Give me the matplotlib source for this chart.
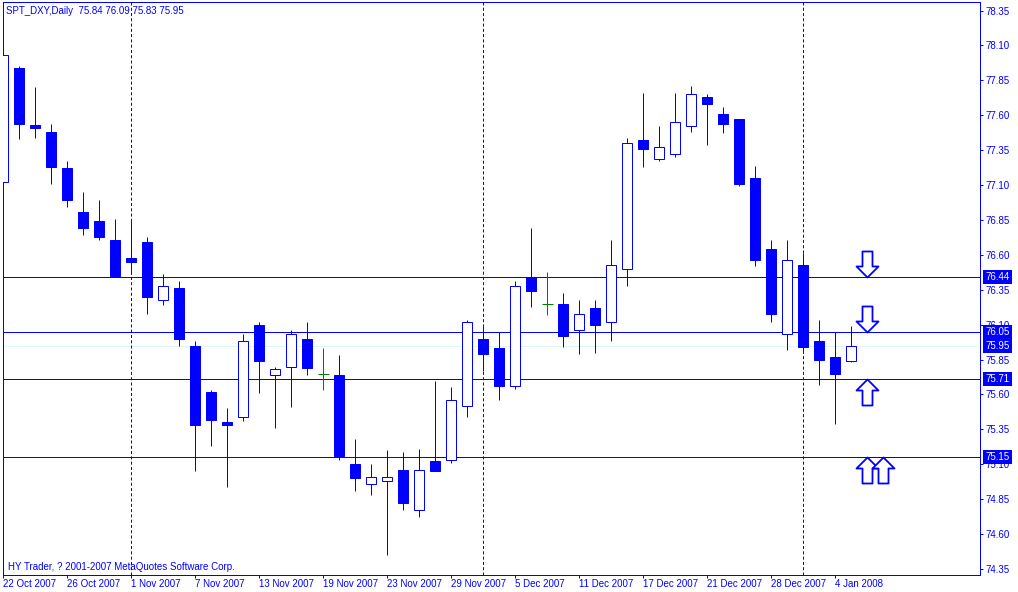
import matplotlib
matplotlib.use('Agg')
import matplotlib.pyplot as plt
from matplotlib.path import Path
from matplotlib.transforms import blended_transform_factory
import datetime as dt

# ---------------- data ----------------
dates = ["2007-10-22", "2007-10-23", "2007-10-24", "2007-10-25", "2007-10-26",
         "2007-10-29", "2007-10-30", "2007-10-31", "2007-11-01", "2007-11-02",
         "2007-11-05", "2007-11-06", "2007-11-07", "2007-11-08", "2007-11-09",
         "2007-11-12", "2007-11-13", "2007-11-14", "2007-11-15", "2007-11-16",
         "2007-11-19", "2007-11-20", "2007-11-21", "2007-11-22", "2007-11-23",
         "2007-11-26", "2007-11-27", "2007-11-28", "2007-11-29", "2007-11-30",
         "2007-12-03", "2007-12-04", "2007-12-05", "2007-12-06", "2007-12-07",
         "2007-12-10", "2007-12-11", "2007-12-12", "2007-12-13", "2007-12-14",
         "2007-12-17", "2007-12-18", "2007-12-19", "2007-12-20", "2007-12-21",
         "2007-12-24", "2007-12-26", "2007-12-27", "2007-12-28", "2007-12-31",
         "2008-01-02", "2008-01-03", "2008-01-04", "2008-01-07"]

opens = [77.12, 77.94, 77.53, 77.48, 77.22, 76.91, 76.84, 76.71, 76.58, 76.69,
         76.28, 76.36, 75.95, 75.62, 75.40, 75.44, 76.10, 75.74, 75.80, 76.00,
         75.75, 75.74, 75.10, 74.96, 74.98, 75.06, 74.77, 75.12, 75.13, 75.52,
         76.00, 75.93, 75.66, 76.44, 76.25, 76.25, 76.06, 76.22, 76.12, 76.50,
         77.42, 77.29, 77.32, 77.52, 77.73, 77.61, 77.57, 77.15, 76.64, 76.03,
         76.53, 75.98, 75.87, 75.84]
highs = [78.16, 77.95, 77.80, 77.54, 77.27, 77.05, 76.99, 76.86, 76.84, 76.73,
         76.46, 76.41, 75.98, 75.63, 75.50, 76.03, 76.12, 75.80, 76.06, 76.12,
         75.93, 75.88, 75.28, 75.10, 75.20, 75.19, 75.21, 75.70, 75.65, 76.13,
         76.09, 76.05, 76.41, 76.79, 76.48, 76.33, 76.28, 76.28, 76.71, 77.44,
         77.76, 77.52, 77.76, 77.81, 77.75, 77.66, 77.57, 77.24, 76.71, 76.71,
         76.61, 76.13, 76.05, 76.09]
lows = [77.10, 77.43, 77.44, 77.11, 76.94, 76.74, 76.71, 76.44, 76.46, 76.18,
        76.24, 75.95, 75.05, 75.23, 74.94, 75.41, 75.61, 75.36, 75.51, 75.74,
        75.63, 75.13, 74.91, 74.88, 74.45, 74.77, 74.72, 75.05, 75.11, 75.44,
        75.77, 75.56, 75.64, 76.23, 76.17, 75.94, 75.89, 75.90, 75.98, 76.38,
        77.23, 77.27, 77.30, 77.48, 77.39, 77.47, 77.09, 76.52, 76.12, 75.92,
        75.90, 75.67, 75.39, 75.83]
closes = [78.03, 77.54, 77.51, 77.23, 76.99, 76.79, 76.73, 76.45, 76.55, 76.30,
          76.38, 76.00, 75.38, 75.42, 75.38, 75.98, 75.84, 75.78, 76.03, 75.79,
          75.75, 75.16, 75.00, 75.01, 75.01, 74.82, 75.06, 75.05, 75.56, 76.12,
          75.89, 75.66, 76.38, 76.34, 76.25, 76.02, 76.18, 76.10, 76.53, 77.40,
          77.36, 77.37, 77.55, 77.75, 77.68, 77.54, 77.11, 76.56, 76.18, 76.56,
          75.94, 75.85, 75.75, 75.95]

symbol = "SPT_DXY,Daily"
levels = [76.44, 76.05, 75.71, 75.15]
bid = closes[-1]
ytick_labels = ["74.35", "74.60", "74.85", "75.10", "75.35", "75.60", "75.85",
                "76.10", "76.35", "76.60", "76.85", "77.10", "77.35", "77.60",
                "77.85", "78.10", "78.35"]
arrow_x = [54, 54, 54, 54, 55]
arrow_y = [76.44, 76.05, 75.71, 75.15, 75.15]
arrow_dir = ["down", "down", "up", "up", "up"]
footer = "HY Trader, ? 2001-2007 MetaQuotes Software Corp."

# ---------------- style ----------------
BLUE = "#0000FF"
GREEN = "#008000"
PX = 0.72  # one pixel in points at dpi 100
plt.rcParams['font.family'] = ['Liberation Sans', 'DejaVu Sans']
plt.rcParams['lines.scale_dashes'] = False
FS = 7

fig = plt.figure(figsize=(10.18, 5.92), dpi=100, facecolor='white')
ax = fig.add_axes([2.8 / 1018, 17 / 592, 977.2 / 1018, 572.7 / 592])
ax.set_facecolor('white')

n = len(dates)
xs = list(range(n))
dts = [dt.datetime.strptime(d, "%Y-%m-%d") for d in dates]

# level lines
ax.axhline(bid, color="#DDF6FF", lw=PX, zorder=1)
for v in levels:
    ax.axhline(v, color=BLUE, lw=PX, zorder=1)

# period separators (first bar of each month)
for i in range(1, n):
    if dts[i].month != dts[i - 1].month:
        ax.axvline(i, color=BLUE, lw=PX, linestyle=(0, (2.2, 1.6)), zorder=1)

# wicks
wick_colors = [GREEN if o == c else BLUE for o, c in zip(opens, closes)]
ax.vlines(xs, lows, highs, colors=wick_colors, lw=PX, zorder=2)

# bodies
W = 0.625
bear = [i for i in xs if closes[i] < opens[i]]
bull = [i for i in xs if closes[i] > opens[i]]
doji = [i for i in xs if closes[i] == opens[i]]
ax.bar(bear, [opens[i] - closes[i] for i in bear], bottom=[closes[i] for i in bear],
       width=W, color=BLUE, edgecolor=BLUE, lw=PX, zorder=3)
ax.bar(bull, [closes[i] - opens[i] for i in bull], bottom=[opens[i] for i in bull],
       width=W, facecolor='white', edgecolor=BLUE, lw=PX, zorder=3)
ax.hlines([opens[i] for i in doji], [i - 0.34 for i in doji], [i + 0.34 for i in doji],
          colors=GREEN, lw=PX, zorder=3)

# arrows (hollow, like MT4 arrow objects)
down_path = Path([(0, 0), (11, 11), (5, 11), (5, 26), (-5, 26), (-5, 11), (-11, 11), (0, 0)],
                 [Path.MOVETO] + [Path.LINETO] * 6 + [Path.CLOSEPOLY])
up_path = Path([(0, 0), (11, -11), (5, -11), (5, -26), (-5, -26), (-5, -11), (-11, -11), (0, 0)],
               [Path.MOVETO] + [Path.LINETO] * 6 + [Path.CLOSEPOLY])
for ax_i, ay, d in zip(arrow_x, arrow_y, arrow_dir):
    ax.plot([ax_i], [ay], marker=down_path if d == "down" else up_path,
            markersize=52 * PX, markerfacecolor='white', markeredgecolor=BLUE,
            markeredgewidth=1.3, linestyle='none', zorder=4, clip_on=False)

# limits
ax.set_xlim(-0.031, 61.04)
ax.set_ylim(74.307, 78.409)

# spines
for s in ax.spines.values():
    s.set_color(BLUE)
    s.set_linewidth(PX)

# x ticks
tick_idx = list(range(0, n, 4))
ax.set_xticks(tick_idx)
ax.set_xticklabels([f"{dts[i].day} {dts[i]:%b %Y}" for i in tick_idx], ha='left')
ax.tick_params(axis='x', direction='out', length=2.2, width=PX, colors=BLUE,
               pad=0.6, labelsize=FS)

# y ticks on the right
ax.yaxis.tick_right()
ax.set_yticks([float(t) for t in ytick_labels])
ax.set_yticklabels(ytick_labels)
ax.tick_params(axis='y', direction='out', length=2.2, width=PX, colors=BLUE,
               pad=1.5, labelsize=FS, left=False)

# price label boxes
trans = blended_transform_factory(ax.transAxes, ax.transData)
for v in levels + [bid]:
    ax.annotate(f"{v:.2f}", xy=(1.0, v), xycoords=trans, xytext=(3.8, 0),
                textcoords='offset points', ha='left', va='center', fontsize=FS,
                color='white', annotation_clip=False, zorder=10,
                bbox=dict(boxstyle='square,pad=0.22', fc=BLUE, ec=BLUE, lw=0))

# header and footer
o, h, l, c = opens[-1], highs[-1], lows[-1], closes[-1]
fig.text(6 / 1018, 1 - 11 / 592, f"{symbol}  {o:.2f} {h:.2f} {l:.2f} {c:.2f}",
         ha='left', va='center', fontsize=FS, color=BLUE)
ax.text(5 / 977.2, (575 - 566.5) / 572.7, footer, transform=ax.transAxes,
        ha='left', va='center', fontsize=FS, color=BLUE)

fig.savefig("out.png", dpi=100, facecolor='white')
